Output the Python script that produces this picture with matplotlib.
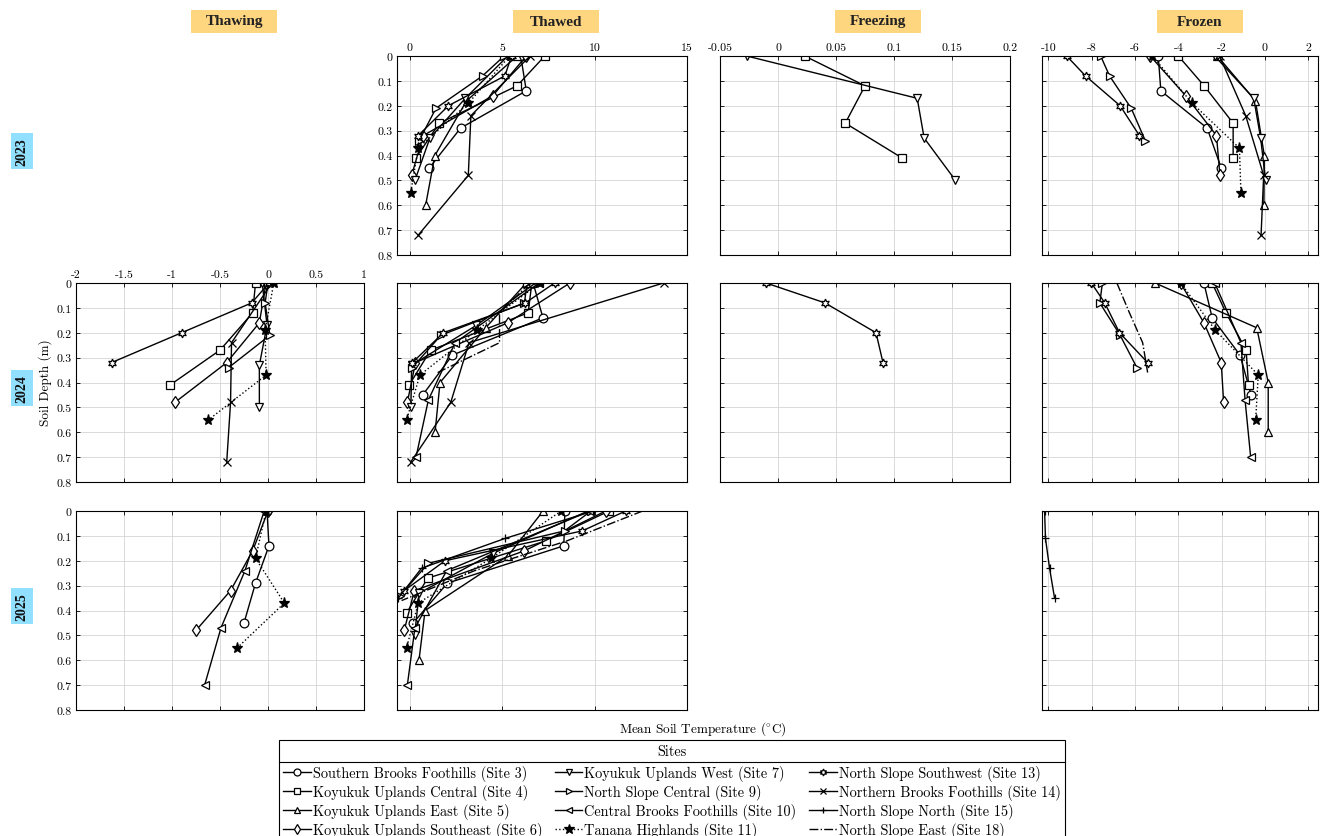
import numpy as np
import matplotlib
matplotlib.use('Agg')
import matplotlib.pyplot as plt
from matplotlib import ticker
from matplotlib.lines import Line2D
from matplotlib.patches import Rectangle

plt.rcParams['font.family'] = ['cmr10', 'DejaVu Serif']
plt.rcParams['mathtext.fontset'] = 'cm'
plt.rcParams['axes.unicode_minus'] = False

# sites
site_ids = [3, 4, 5, 6, 7, 9, 10, 11, 13, 14, 15, 18]
site_names = ['Southern Brooks Foothills', 'Koyukuk Uplands Central', 'Koyukuk Uplands East',
              'Koyukuk Uplands Southeast', 'Koyukuk Uplands West', 'North Slope Central',
              'Central Brooks Foothills', 'Tanana Highlands', 'North Slope Southwest',
              'Northern Brooks Foothills', 'North Slope North', 'North Slope East']
site_markers = ['o', 's', '^', 'd', 'v', '>', '<', '*', (6, 1, 0), 'x', '+', '']
site_lines = ['-', '-', '-', '-', '-', '-', '-', ':', '-', '-', '-', '-.']

# sensor depths (m) per site
depths = {
    3: [0, 0.14, 0.29, 0.45],
    4: [0, 0.12, 0.27, 0.41],
    5: [0, 0.18, 0.40, 0.60],
    6: [0, 0.16, 0.32, 0.48],
    7: [0, 0.17, 0.33, 0.50],
    9: [0, 0.08, 0.21, 0.34],
    10: [0, 0.24, 0.47, 0.70],
    11: [0, 0.19, 0.37, 0.55],
    13: [0, 0.08, 0.20, 0.32],
    14: [0, 0.24, 0.48, 0.72],
    15: [0, 0.11, 0.23, 0.35],
    18: [0, 0.12, 0.24, 0.36],
}

# mean soil temperature (C) per panel
thawed_2023 = {
    3: [6.0, 6.3, 2.74, 1.05],
    4: [7.3, 5.8, 1.59, 0.32],
    5: [5.8, 3.07, 1.35, 0.85],
    6: [6.3, 4.48, 0.72, 0.09],
    7: [5.3, 3.0, 1.08, 0.27],
    9: [5.1, 3.93, 1.41, 0.5],
    11: [5.4, 3.16, 0.45, 0.04],
    13: [5.5, 5.14, 2.08, 0.45],
    14: [6.5, 3.3, 3.16, 0.45],
}
freezing_2023 = {
    4: [0.023, 0.075, 0.058, 0.107],
    7: [-0.027, 0.12, 0.126, 0.153],
}
frozen_2023 = {
    3: [-4.93, -4.81, -2.67, -2.02],
    4: [-4.0, -2.81, -1.47, -1.47],
    5: [-2.2, -0.44, -0.03, -0.05],
    6: [-5.3, -3.66, -2.24, -2.08],
    7: [-2.32, -0.52, -0.2, 0.03],
    9: [-7.59, -7.18, -6.18, -5.53],
    11: [-5.2, -3.36, -1.18, -1.11],
    13: [-9.16, -8.29, -6.69, -5.8],
    14: [-2.1, -0.89, -0.06, -0.18],
}
thawing_2024 = {
    4: [-0.13, -0.16, -0.50, -1.02],
    6: [-0.02, -0.09, -0.43, -0.97],
    7: [-0.06, -0.01, -0.09, -0.09],
    9: [0.00, -0.03, 0.02, -0.41],
    11: [0.06, -0.03, -0.02, -0.62],
    13: [0.01, -0.17, -0.90, -1.63],
    14: [0.04, -0.38, -0.39, -0.43],
}
thawed_2024 = {
    3: [6.67, 7.2, 2.3, 0.69],
    4: [6.6, 6.4, 1.12, -0.04],
    5: [6.3, 4.1, 1.63, 1.36],
    6: [8.66, 5.3, 0.3, -0.14],
    7: [6.8, 3.6, 0.1, 0.05],
    9: [6.34, 6.2, 1.68, 0.13],
    10: [7.0, 2.45, 1.0, 0.33],
    11: [7.03, 3.62, 0.54, -0.18],
    13: [7.83, 6.25, 1.81, 0.13],
    14: [13.73, 3.2, 2.21, 0.04],
    18: [6.5, 4.85, 4.85, 1.5],
}
freezing_2024 = {
    13: [-0.0103, 0.0405, 0.0845, 0.0905],
}
frozen_2024 = {
    3: [-2.82, -2.44, -1.15, -0.64],
    4: [-2.44, -1.8, -0.87, -0.76],
    5: [-5.08, -0.38, 0.15, 0.15],
    6: [-3.9, -2.82, -2.02, -1.91],
    9: [-7.51, -7.63, -6.69, -5.92],
    10: [-2.32, -1.11, -0.92, -0.66],
    11: [-3.89, -2.29, -0.31, -0.43],
    13: [-8.02, -7.4, -6.72, -5.42],
    18: [-6.84, -6.26, -5.65, -5.42],
}
thawing_2025 = {
    3: [-0.01, 0.01, -0.13, -0.25],
    6: [0.0, -0.16, -0.39, -0.75],
    10: [-0.04, -0.24, -0.49, -0.66],
    11: [-0.02, -0.13, 0.17, -0.32],
}
thawed_2025 = {
    3: [8.39, 8.33, 2.03, 0.18],
    4: [10.78, 7.37, 0.96, -0.18],
    5: [7.21, 5.31, 0.82, 0.49],
    6: [10.6, 6.2, 0.24, -0.31],
    7: [9.64, 4.5, 0.5, 0.25],
    9: [9.8, 8.37, 1.0, -0.54],
    10: [9.75, 1.99, 0.27, -0.14],
    11: [8.2, 4.4, 0.45, -0.18],
    13: [11.68, 9.33, 1.9, -0.31],
    15: [9.93, 5.16, 0.63, -0.63],
    18: [12.6, 8.5, 3.5, -0.45],
}
frozen_2025 = {
    15: [-10.18, -10.14, -9.95, -9.72],
}

phases = ['Thawing', 'Thawed', 'Freezing', 'Frozen']
years = ['2023', '2024', '2025']
panels = {
    (0, 1): thawed_2023, (0, 2): freezing_2023, (0, 3): frozen_2023,
    (1, 0): thawing_2024, (1, 1): thawed_2024, (1, 2): freezing_2024, (1, 3): frozen_2024,
    (2, 0): thawing_2025, (2, 1): thawed_2025, (2, 3): frozen_2025,
}
xlims = [(-2, 1), (-0.7, 15), (-0.05, 0.2), (-10.3, 2.45)]
xticks = [np.arange(-2, 1.01, 0.5), [0, 5, 10, 15], np.arange(-0.05, 0.201, 0.05), np.arange(-10, 2.1, 2)]

W, H = 1321, 837
fig = plt.figure(figsize=(W / 100, H / 100), dpi=100)

col_left = [76, 397, 720, 1042]
col_width = [288, 290, 290, 276]
row_top = [57, 284, 512]
row_h = 199


def style(i):
    return dict(marker=site_markers[i], linestyle=site_lines[i], color='black', lw=1.0,
                markersize=6.3, markeredgewidth=0.9, markeredgecolor='black',
                markerfacecolor='black' if site_markers[i] == '*' else 'white')


for (r, c), data in panels.items():
    ax = fig.add_axes([col_left[c] / W, 1 - (row_top[r] + row_h) / H, col_width[c] / W, row_h / H])
    for i, s in enumerate(site_ids):
        if s in data:
            kw = style(i)
            if site_markers[i] == '*':
                kw['markersize'] = 8
            ax.plot(data[s], depths[s], **kw)
    ax.set_xlim(*xlims[c])
    ax.set_ylim(0.8, 0)
    ax.set_xticks(xticks[c])
    ax.set_yticks(np.arange(0, 0.81, 0.1))
    ax.xaxis.set_major_formatter(ticker.FormatStrFormatter('%g'))
    ax.yaxis.set_major_formatter(ticker.FormatStrFormatter('%g'))
    ax.grid(True, color='#d4d4d4', lw=0.6)
    ax.set_axisbelow(True)
    show_top = (r - 1, c) not in panels
    show_left = not any((r, cc) in panels for cc in range(c))
    ax.tick_params(direction='in', length=3, width=0.6, top=True, bottom=True, left=True, right=True,
                   labeltop=show_top, labelbottom=False, labelleft=show_left, labelsize=8.5, pad=3)
    for sp in ax.spines.values():
        sp.set_linewidth(0.8)

# column and row headers
for c, name in enumerate(phases):
    cx = [234, 556, 878, 1200][c]
    fig.patches.append(Rectangle(((cx - 43) / W, 1 - 34 / H), 86 / W, 23 / H,
                                 transform=fig.transFigure, facecolor='#FFD680', edgecolor='none'))
    fig.text(cx / W, 1 - 22 / H, name, ha='center', va='center', fontsize=11, fontweight='bold',
             family='Liberation Serif', color='#222222')

for r, yr in enumerate(years):
    cy = [152, 389, 607][r]
    fig.patches.append(Rectangle((11 / W, 1 - (cy + 18) / H), 22 / W, 36 / H,
                                 transform=fig.transFigure, facecolor='#92E0FF', edgecolor='none'))
    fig.text(22 / W, 1 - cy / H, yr, ha='center', va='center', rotation=90, fontsize=10,
             fontweight='bold', family='Liberation Serif', color='#111111')

fig.text(45 / W, 1 - 383 / H, 'Soil Depth (m)', rotation=90, ha='center', va='center', fontsize=9.5)
fig.text(703 / W, 1 - 729 / H, r'Mean Soil Temperature ($^{\circ}$C)', ha='center', va='center', fontsize=9.5)

# legend
handles = []
for i, s in enumerate(site_ids):
    kw = style(i)
    kw['markersize'] = 5 if site_markers[i] != '*' else 7
    handles.append(Line2D([], [], **kw))
labels = ['%s (Site %d)' % (n, s) for n, s in zip(site_names, site_ids)]
leg = fig.legend(handles, labels, ncol=3, loc='upper center', bbox_to_anchor=(672 / W, 1 - 741 / H),
                 title='Sites', fontsize=10.3, title_fontsize=10.3, frameon=True, fancybox=False,
                 edgecolor='black', framealpha=1, borderpad=0.3, handlelength=1.9,
                 handletextpad=0.15, columnspacing=0.9, labelspacing=0.2, borderaxespad=0)
leg.get_frame().set_linewidth(0.8)
leg._legend_box.sep = 5

fig.canvas.draw()
rend = fig.canvas.get_renderer()
lb = leg.get_window_extent(rend)
tb = leg.get_title().get_window_extent(rend)
yl = (tb.y0 - 4) / fig.bbox.height
fig.add_artist(Line2D([lb.x0 / fig.bbox.width, lb.x1 / fig.bbox.width], [yl, yl],
                      transform=fig.transFigure, color='black', lw=0.8, zorder=20))

fig.savefig('out.png', dpi=100)
